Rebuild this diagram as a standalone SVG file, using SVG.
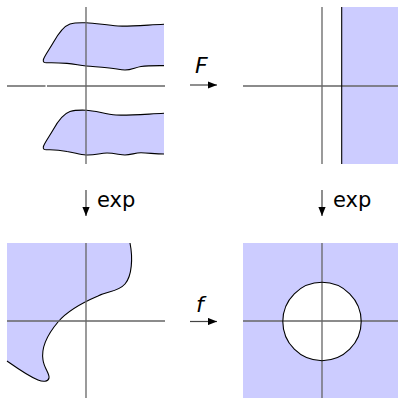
<svg xmlns="http://www.w3.org/2000/svg" width="398" height="399" viewBox="0 0 398 399">
<style>
.axis{stroke:#666;stroke-width:1.3;fill:none}
.fill{fill:#ccccff;stroke:none}
.edge{fill:none;stroke:#000;stroke-width:1.1}
.conn{stroke:#444;stroke-width:1.2;fill:none}
.lbl{font-family:"DejaVu Sans",sans-serif;fill:#000}
.it{font-style:italic}
</style>
<defs>
<marker id="ah" viewBox="0 0 10 8" refX="10" refY="4" markerWidth="9" markerHeight="7.2" markerUnits="userSpaceOnUse" orient="auto">
<path d="M0,0 L10,4 L0,8 Z" fill="#000"/>
</marker>
</defs>
<rect width="398" height="399" fill="#fff"/>
<g id="strip-domain">
<path class="fill" d="M164,24.3 C140,25.5 128,26.5 118,26 C105,25 95,23 86,22.8 C80,22.6 74,22.8 70,24 C64,26 58,34 53,43 C49,50 45,55 43.4,59.5 C42.8,62 44,63 47,62.8 C55,62.5 62,63 67,63.4 C75,64.2 80,65.5 86,66 C95,66.7 100,67.3 107,67.7 C115,68.3 120,70 125,70 C131,70 135,67.5 141,66.5 C148,65.6 155,65.7 164,65.6 Z"/>
<path class="edge" d="M164,24.3 C140,25.5 128,26.5 118,26 C105,25 95,23 86,22.8 C80,22.6 74,22.8 70,24 C64,26 58,34 53,43 C49,50 45,55 43.4,59.5 C42.8,62 44,63 47,62.8 C55,62.5 62,63 67,63.4 C75,64.2 80,65.5 86,66 C95,66.7 100,67.3 107,67.7 C115,68.3 120,70 125,70 C131,70 135,67.5 141,66.5 C148,65.6 155,65.7 164,65.6"/>
<path class="fill" d="M164,113.3 C140,114.5 128,115.5 116,115 C105,114 95,110.5 86,110.2 C80,110 74,110.3 70,111.5 C64,113.5 58,121 53,130 C49,137 45,142 43.4,146.5 C42.8,149 44,150 47,149.8 C55,149.5 62,150.5 67,151.5 C75,152.8 80,154.5 86,155 C95,155.5 100,153 107,153 C115,153 120,155 125,155 C131,155 135,152.8 141,152.8 C148,152.8 155,154 164,154 Z"/>
<path class="edge" d="M164,113.3 C140,114.5 128,115.5 116,115 C105,114 95,110.5 86,110.2 C80,110 74,110.3 70,111.5 C64,113.5 58,121 53,130 C49,137 45,142 43.4,146.5 C42.8,149 44,150 47,149.8 C55,149.5 62,150.5 67,151.5 C75,152.8 80,154.5 86,155 C95,155.5 100,153 107,153 C115,153 120,155 125,155 C131,155 135,152.8 141,152.8 C148,152.8 155,154 164,154"/>
<path class="axis" d="M7,86 H45.5 M47,86 H165 M86,7 V164"/>
</g>
<g id="halfplane">
<rect class="fill" x="341.7" y="7" width="56.3" height="157"/>
<path class="axis" d="M243,86 H398 M322,7 V164"/>
<path class="edge" d="M341.7,7 V164"/>
</g>
<g id="image-region">
<path class="fill" d="M7,243 H130 C133,258 132,276 125,284 C118,292 108,291 98,296 C84,302 68,310 58,322 C47,335 41,348 43,360 C44,368 50,374 49,378 C48,382 43,382 38,380 C28,376 17,368 7,361 Z"/>
<path class="edge" d="M130,243 C133,258 132,276 125,284 C118,292 108,291 98,296 C84,302 68,310 58,322 C47,335 41,348 43,360 C44,368 50,374 49,378 C48,382 43,382 38,380 C28,376 17,368 7,361"/>
<path class="axis" d="M7,321 H165 M86,243 V398"/>
</g>
<g id="disk-complement">
<rect class="fill" x="243" y="243" width="155" height="155"/>
<circle cx="322" cy="321.5" r="39.2" fill="#fff" stroke="none"/>
<path class="axis" d="M243,321 H398 M322,243 V398"/>
<circle class="edge" cx="322" cy="321.5" r="39.2"/>
</g>
<g id="connectors">
<line class="conn" x1="190" y1="85" x2="217" y2="85" marker-end="url(#ah)"/>
<text class="lbl it" x="195" y="73.3" font-size="22">F</text>
<line class="conn" x1="190" y1="321.5" x2="217" y2="321.5" marker-end="url(#ah)"/>
<text class="lbl it" x="196" y="311.7" font-size="22">f</text>
<line class="conn" x1="86" y1="190" x2="86" y2="216" marker-end="url(#ah)"/>
<text class="lbl" x="97" y="206.7" font-size="21">exp</text>
<line class="conn" x1="322" y1="190" x2="322" y2="216" marker-end="url(#ah)"/>
<text class="lbl" x="333" y="206.7" font-size="21">exp</text>
</g>
</svg>
